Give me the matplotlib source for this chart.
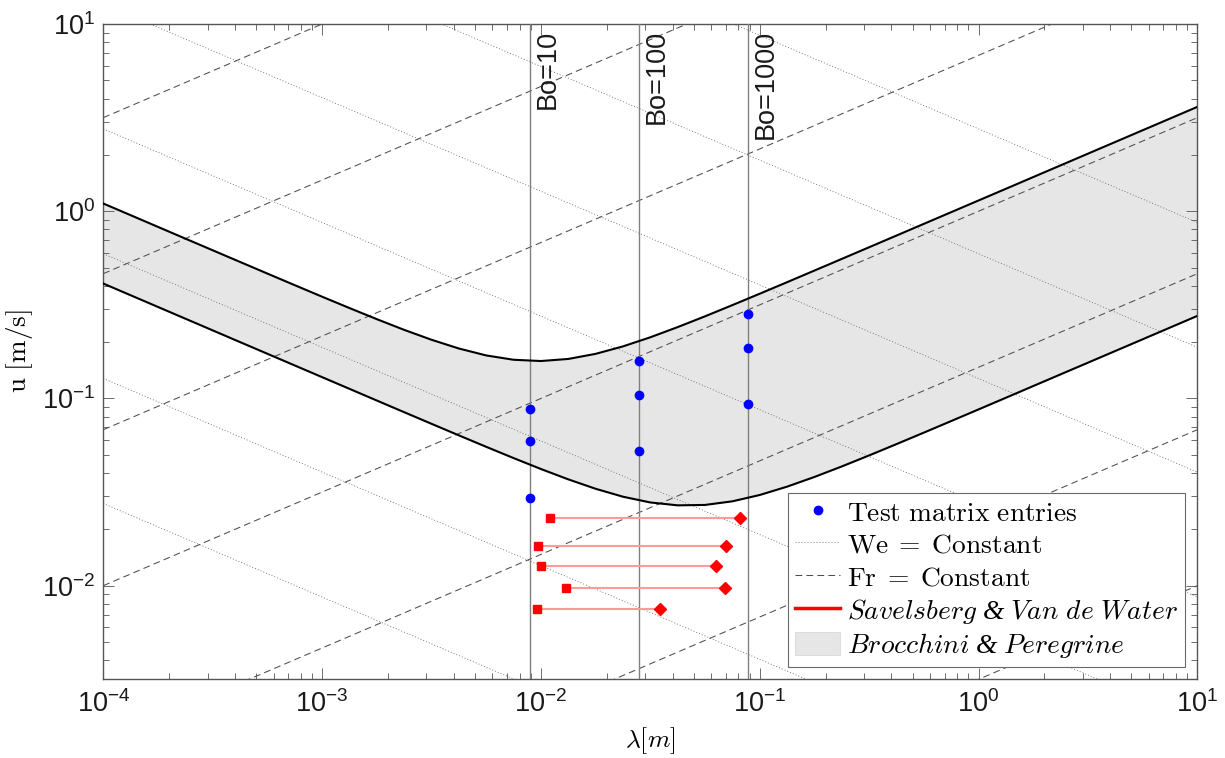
import matplotlib
matplotlib.use('Agg')
import matplotlib.pyplot as plt
from matplotlib.lines import Line2D
from matplotlib.patches import Patch
from matplotlib.ticker import LogLocator, NullFormatter
from matplotlib.font_manager import FontProperties

plt.rcParams['font.family'] = ['Liberation Sans', 'DejaVu Sans']
plt.rcParams['mathtext.default'] = 'regular'
plt.rcParams['axes.unicode_minus'] = False

# ---------------- data ----------------
# Brocchini & Peregrine band boundaries
BAND_LAMBDA = [1.000e-4, 1.334e-4, 1.778e-4, 2.371e-4, 3.162e-4, 4.217e-4, 5.623e-4, 7.499e-4,
               1.000e-3, 1.334e-3, 1.778e-3, 2.371e-3, 3.162e-3, 4.217e-3, 5.623e-3, 7.499e-3,
               1.000e-2, 1.334e-2, 1.778e-2, 2.371e-2, 3.162e-2, 4.217e-2, 5.623e-2, 7.499e-2,
               1.000e-1, 1.334e-1, 1.778e-1, 2.371e-1, 3.162e-1, 4.217e-1, 5.623e-1, 7.499e-1,
               1.000, 1.334, 1.778, 2.371, 3.162, 4.217, 5.623, 7.499, 10.0]
BAND_UPPER = [1.100, 0.9527, 0.8250, 0.7145, 0.6189, 0.5362, 0.4647, 0.4029,
              0.3497, 0.3041, 0.2653, 0.2326, 0.2059, 0.1849, 0.1698, 0.1610,
              0.1585, 0.1626, 0.1731, 0.1897, 0.2122, 0.2405, 0.2746, 0.3152,
              0.3626, 0.4179, 0.4821, 0.5563, 0.6422, 0.7415, 0.8561, 0.9886,
              1.1415, 1.3182, 1.5222, 1.7578, 2.0299, 2.3441, 2.7069, 3.1259, 3.6097]
BAND_LOWER = [0.4110, 0.3559, 0.3082, 0.2669, 0.2311, 0.2001, 0.1733, 0.1501,
              0.1300, 0.1126, 0.09753, 0.08450, 0.07325, 0.06354, 0.05519, 0.04806,
              0.04201, 0.03699, 0.03294, 0.02988, 0.02784, 0.02687, 0.02700, 0.02823,
              0.03051, 0.03381, 0.03808, 0.04334, 0.04963, 0.05704, 0.06569, 0.07574,
              0.08739, 0.1009, 0.1165, 0.1345, 0.1553, 0.1793, 0.2070, 0.2391, 0.2761]

# Guide lines: u at lambda = 1e-4 m and at lambda = 10 m
GUIDE_LAMBDA = [1e-4, 10.0]
WE_U_LEFT = [275.4, 59.3, 12.8, 2.754, 0.593, 0.128, 0.0275]
WE_U_RIGHT = [0.871, 0.1876, 0.0404, 0.00871, 0.001876, 0.000404, 8.71e-5]
FR_U_LEFT = [3.162, 0.464, 0.0681, 0.01, 0.00147, 0.000215, 3.16e-5]
FR_U_RIGHT = [1000.0, 146.8, 21.5, 3.162, 0.464, 0.0681, 0.01]

# Bond number lines
BO_VALUES = [10, 100, 1000]
BO_LAMBDA = [0.0089, 0.0280, 0.0885]

# Test matrix entries
TEST_LAMBDA = [0.0089, 0.0089, 0.0089, 0.0280, 0.0280, 0.0280, 0.0885, 0.0885, 0.0885]
TEST_U = [0.0883, 0.0590, 0.0294, 0.158, 0.105, 0.0527, 0.281, 0.187, 0.0931]

# Savelsberg & Van de Water ranges
SV_LAMBDA_MIN = [0.01103, 0.00969, 0.01003, 0.01305, 0.00955]
SV_LAMBDA_MAX = [0.0809, 0.0704, 0.0631, 0.0691, 0.0350]
SV_U = [0.02289, 0.01628, 0.01268, 0.00971, 0.00750]

X_TICKS = [1e-4, 1e-3, 1e-2, 1e-1, 1, 10]
Y_TICKS = [1e-2, 1e-1, 1, 10]

# ---------------- figure ----------------
fig = plt.figure(figsize=(12.25, 7.58), dpi=100)
ax = fig.add_axes([0.0843, 0.1038, 0.8931, 0.8645])
ax.set_xscale('log')
ax.set_yscale('log')

band_color = '#e6e6e6'
we_style = dict(color='#6a6a6a', lw=0.6, ls=(0, (1.2, 2.4)))
fr_style = dict(color='#4d4d4d', lw=0.75, ls=(0, (6.5, 4.0)))

ax.fill_between(BAND_LAMBDA, BAND_LOWER, BAND_UPPER, color=band_color, lw=0, zorder=1)

for ul, ur in zip(WE_U_LEFT, WE_U_RIGHT):
    ax.plot(GUIDE_LAMBDA, [ul, ur], zorder=2, **we_style)
for ul, ur in zip(FR_U_LEFT, FR_U_RIGHT):
    ax.plot(GUIDE_LAMBDA, [ul, ur], zorder=2, **fr_style)

for bo, lam in zip(BO_VALUES, BO_LAMBDA):
    ax.axvline(lam, color='#808080', lw=1.0, zorder=3)
    ax.annotate(f'Bo={bo}', xy=(lam, 10), xycoords='data', xytext=(3.5, -4.5),
                textcoords='offset points', rotation=90, ha='left', va='top',
                fontsize=19.5, color='#1a1a1a', zorder=7)

ax.plot(BAND_LAMBDA, BAND_UPPER, color='black', lw=1.5, zorder=4)
ax.plot(BAND_LAMBDA, BAND_LOWER, color='black', lw=1.5, zorder=4)

for l0, l1, u in zip(SV_LAMBDA_MIN, SV_LAMBDA_MAX, SV_U):
    ax.plot([l0, l1], [u, u], color='#ff9a9a', lw=1.5, zorder=5)
ax.plot(SV_LAMBDA_MIN, SV_U, ls='none', marker='s', ms=6.0, color='red', mec='red', zorder=6)
ax.plot(SV_LAMBDA_MAX, SV_U, ls='none', marker='D', ms=6.2, color='red', mec='red', zorder=6)

ax.plot(TEST_LAMBDA, TEST_U, ls='none', marker='o', ms=6, color='blue', mec='blue', zorder=6)

ax.set_xlim(1e-4, 10)
ax.set_ylim(10 ** -2.5, 10)
ax.set_xticks(X_TICKS)
ax.set_yticks(Y_TICKS)
ax.xaxis.set_minor_locator(LogLocator(base=10, subs=[2, 3, 4, 5, 6, 7, 8, 9], numticks=50))
ax.yaxis.set_minor_locator(LogLocator(base=10, subs=[2, 3, 4, 5, 6, 7, 8, 9], numticks=50))
ax.xaxis.set_minor_formatter(NullFormatter())
ax.yaxis.set_minor_formatter(NullFormatter())

ax.tick_params(which='both', direction='in', top=True, right=True, colors='#555555',
               labelcolor='#1a1a1a', labelsize=19.5)
ax.tick_params(which='major', length=8, width=0.6)
ax.tick_params(which='minor', length=4.3, width=0.6)
ax.tick_params(axis='x', which='major', pad=8)
ax.tick_params(axis='y', which='major', pad=6)
for s in ax.spines.values():
    s.set_color('#555555')
    s.set_linewidth(1.0)

ax.set_xlabel(r'$\mathit{\lambda}\mathrm{[}\mathit{m}\mathrm{]}$', fontsize=18.5,
              math_fontfamily='cm', labelpad=5)
ax.set_ylabel(r'$\mathrm{u\ [m/s]}$', fontsize=19.5, math_fontfamily='cm', labelpad=5)

handles = [
    Line2D([], [], ls='none', marker='o', ms=6, color='blue'),
    Line2D([], [], **we_style),
    Line2D([], [], **fr_style),
    Line2D([], [], color='red', lw=2.5),
    Patch(facecolor=band_color, edgecolor='#dcdcdc', lw=0.8),
]
labels = [
    r'$\mathrm{Test\ matrix\ entries}$',
    r'$\mathrm{We}\;\mathrm{=}\;\mathrm{Constant}$',
    r'$\mathrm{Fr}\;\mathrm{=}\;\mathrm{Constant}$',
    r'$\mathit{Savelsberg}$ & $\mathit{Van\ de\ Water}$',
    r'$\mathit{Brocchini}$ & $\mathit{Peregrine}$',
]
leg = ax.legend(handles, labels, loc='lower right',
                prop=FontProperties(family='Liberation Serif', size=19.8, math_fontfamily='cm'),
                frameon=True, fancybox=False, edgecolor='#6a6a6a', framealpha=1,
                borderaxespad=0.44, handlelength=1.64, handletextpad=0.25,
                handleheight=0.9, labelspacing=0.2, borderpad=0.25)
leg.get_frame().set_linewidth(0.8)
leg.set_zorder(10)
for t in leg.get_texts()[3:]:
    t.set_fontstyle('italic')

fig.savefig('out.png', dpi=100)
